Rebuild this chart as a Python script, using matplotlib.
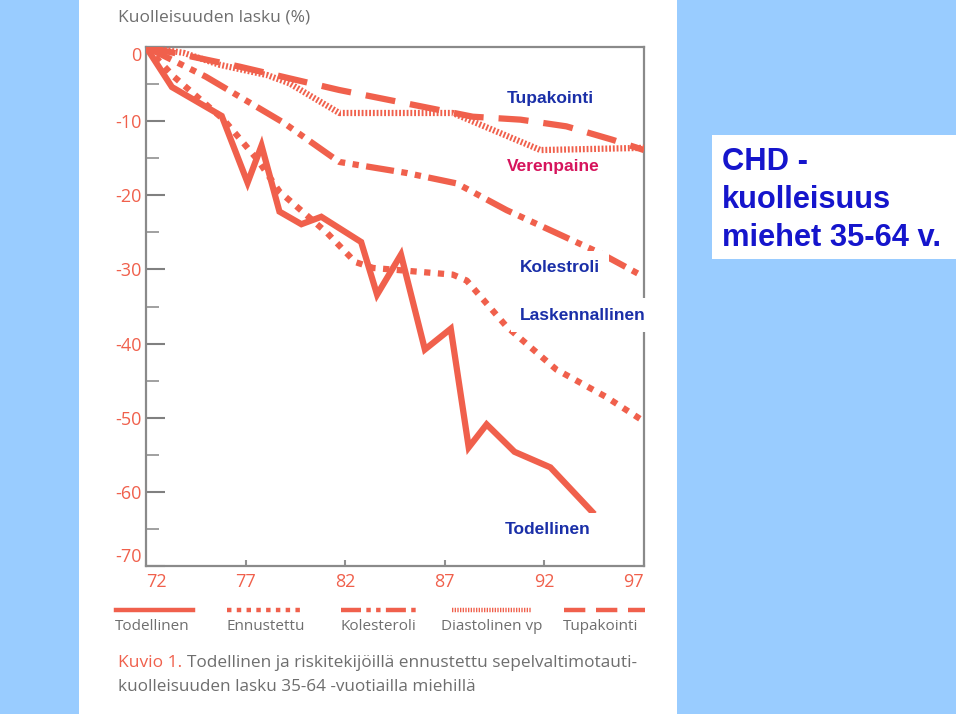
import matplotlib.pyplot as plt
from matplotlib.patches import Rectangle
from matplotlib.lines import Line2D

# data (year, change in mortality %)
todellinen_x = [72, 73.3, 75.8, 77.1, 77.8, 78.7, 79.8, 80.8, 82.8, 83.6, 84.8, 86.0, 87.3, 88.2, 89.1, 90.5, 92.3, 94.4]
todellinen_y = [0, -5.4, -9.3, -18.3, -13.3, -22.2, -23.9, -22.9, -26.3, -33.4, -28.0, -40.8, -38.0, -54.0, -50.9, -54.6, -56.7, -62.7]

ennustettu_x = [72, 73.4, 75.9, 77.6, 78.7, 81.1, 82.5, 83.4, 87.4, 88.1, 90.1, 92.6, 95.1, 97]
ennustettu_y = [0, -4.0, -9.8, -15.2, -19.5, -25.1, -29.0, -29.8, -30.7, -31.5, -37.7, -43.5, -47.2, -50.5]

kolesteroli_x = [72, 75.0, 78.9, 81.7, 85.1, 87.6, 90.1, 94.8, 97]
kolesteroli_y = [0, -4.0, -10.2, -15.5, -17.0, -18.4, -22.0, -27.8, -31.0]

diastolinen_x = [72, 73.9, 75.7, 78.1, 79.2, 81.7, 87.4, 91.8, 97]
diastolinen_y = [0, -0.8, -2.4, -3.8, -4.9, -8.9, -8.9, -13.9, -13.6]

tupakointi_x = [72, 76.7, 81.7, 88.4, 90.8, 93.1, 95.4, 97]
tupakointi_y = [0, -2.65, -5.8, -9.4, -9.8, -10.7, -12.5, -13.9]

year_ticks = [72, 77, 82, 87, 92, 97]
pct_ticks = [0, -10, -20, -30, -40, -50, -60, -70]

legend_labels = ['Todellinen', 'Ennustettu', 'Kolesteroli', 'Diastolinen vp', 'Tupakointi']

RED = '#F0604C'
GRAY = '#6E6E6E'
BLUE = '#1A2FA8'
SCAN_FONT = 'Open Sans'

W, H = 960, 716


def fx(x):
    return x / W


def fy(y):
    return 1 - y / H


fig = plt.figure(figsize=(9.6, 7.16), dpi=100)
fig.patch.set_facecolor('white')

# light blue side panels of the slide
fig.add_artist(Rectangle((0, fy(714)), fx(79), fy(0) - fy(714), transform=fig.transFigure,
                         facecolor='#99CCFF', edgecolor='none', zorder=0))
fig.add_artist(Rectangle((fx(677), fy(714)), fx(956) - fx(677), fy(0) - fy(714), transform=fig.transFigure,
                         facecolor='#99CCFF', edgecolor='none', zorder=0))

ax = fig.add_axes([fx(146), fy(566), fx(644) - fx(146), fy(47) - fy(566)])

styles = {
    'Todellinen': dict(ls='-', lw=4.5),
    'Ennustettu': dict(ls=(0, (1, 1.2)), lw=4.5),
    'Kolesteroli': dict(ls=(0, (4.5, 1.2, 1, 1.2, 1, 1.2)), lw=4.5),
    'Diastolinen vp': dict(ls=(0, (0.3, 0.3)), lw=4.5),
    'Tupakointi': dict(ls=(0, (4.8, 2.4)), lw=4.5),
}

ax.plot(tupakointi_x, tupakointi_y, color=RED, dash_capstyle='butt', zorder=3, **styles['Tupakointi'])
ax.plot(diastolinen_x, diastolinen_y, color=RED, dash_capstyle='butt', zorder=3, **styles['Diastolinen vp'])
ax.plot(kolesteroli_x, kolesteroli_y, color=RED, dash_capstyle='butt', zorder=3, **styles['Kolesteroli'])
ax.plot(ennustettu_x, ennustettu_y, color=RED, dash_capstyle='butt', zorder=3, **styles['Ennustettu'])
ax.plot(todellinen_x, todellinen_y, color=RED, solid_joinstyle='miter', zorder=4, **styles['Todellinen'])

ax.set_xlim(72, 97)
ax.set_ylim(-70, 0)

ax.set_yticks(pct_ticks)
ax.set_yticklabels([str(v) for v in pct_ticks], color=RED, fontsize=13, family=SCAN_FONT)
ax.set_yticks(range(-65, 0, 10), minor=True)
ax.set_xticks(year_ticks)
ax.set_xticklabels([str(v) for v in year_ticks], color=RED, fontsize=13, family=SCAN_FONT)
xl = ax.get_xticklabels()
xl[0].set_ha('left')
xl[-1].set_ha('right')
yl = ax.get_yticklabels()
yl[0].set_va('top')
yl[-1].set_va('bottom')

ax.tick_params(axis='y', which='major', direction='in', length=13.5, width=1.5, color='#808080', pad=3)
ax.tick_params(axis='y', which='minor', direction='in', length=9, width=1.2, color='#909090')
ax.tick_params(axis='x', direction='in', length=4, width=1.5, color='#909090', pad=5)
for s in ax.spines.values():
    s.set_color('#8A8A8A')
    s.set_linewidth(1.6)

fig.text(fx(118), fy(18), 'Kuolleisuuden lasku (%)', color=GRAY, fontsize=12.5, family=SCAN_FONT, va='center')

# labels put on the slide over the chart
fig.text(fx(507), fy(98), 'Tupakointi', color=BLUE, fontsize=12.5, weight='bold', family='Liberation Sans', va='center')
fig.text(fx(507), fy(167), 'Verenpaine', color='#D6145C', fontsize=12.5, weight='bold', family='Liberation Sans', va='center')
box = dict(facecolor='white', edgecolor='none', pad=6.5)
fig.text(fx(520), fy(268), 'Kolestroli', color=BLUE, fontsize=12.5, weight='bold', family='Liberation Sans', va='center', bbox=box, zorder=5)
fig.text(fx(520), fy(315), 'Laskennallinen', color=BLUE, fontsize=12.5, weight='bold', family='Liberation Sans', va='center', bbox=box, zorder=5)
fig.text(fx(505), fy(530), 'Todellinen', color=BLUE, fontsize=12.5, weight='bold', family='Liberation Sans', va='center', bbox=box, zorder=5)

# key under the chart: sample line with its name below
key_x = [(116, 193), (227, 305), (341, 418), (452, 532), (564, 645)]
for (x0, x1), name in zip(key_x, legend_labels):
    st = styles[name]
    fig.add_artist(Line2D([fx(x0), fx(x1)], [fy(610), fy(610)], transform=fig.transFigure, color=RED,
                          ls=st['ls'], lw=3.2, dash_capstyle='butt'))
    fig.text(fx(x0 - 1 if name != 'Diastolinen vp' else 441), fy(626), name, color=GRAY, fontsize=11,
             family=SCAN_FONT, va='center')

fig.text(fx(118), fy(663), 'Kuvio 1.', color=RED, fontsize=12.5, family=SCAN_FONT, va='center')
fig.text(fx(187), fy(663), 'Todellinen ja riskitekijöillä ennustettu sepelvaltimotauti-', color=GRAY,
         fontsize=12.4, family=SCAN_FONT, va='center')
fig.text(fx(118), fy(687), 'kuolleisuuden lasku 35-64 -vuotiailla miehillä', color=GRAY, fontsize=12.3,
         family=SCAN_FONT, va='center')

# white box with the slide title
fig.add_artist(Rectangle((fx(712), fy(259)), fx(957) - fx(712), fy(135) - fy(259), transform=fig.transFigure,
                         facecolor='white', edgecolor='none', zorder=1))
for yy, line in zip([170, 208, 246], ['CHD -', 'kuolleisuus', 'miehet 35-64 v.']):
    fig.text(fx(722), fy(yy), line, color='#1515CC', fontsize=22.2, weight='bold', family='Liberation Sans',
             va='baseline', zorder=2)

fig.savefig('out.png', dpi=100)
